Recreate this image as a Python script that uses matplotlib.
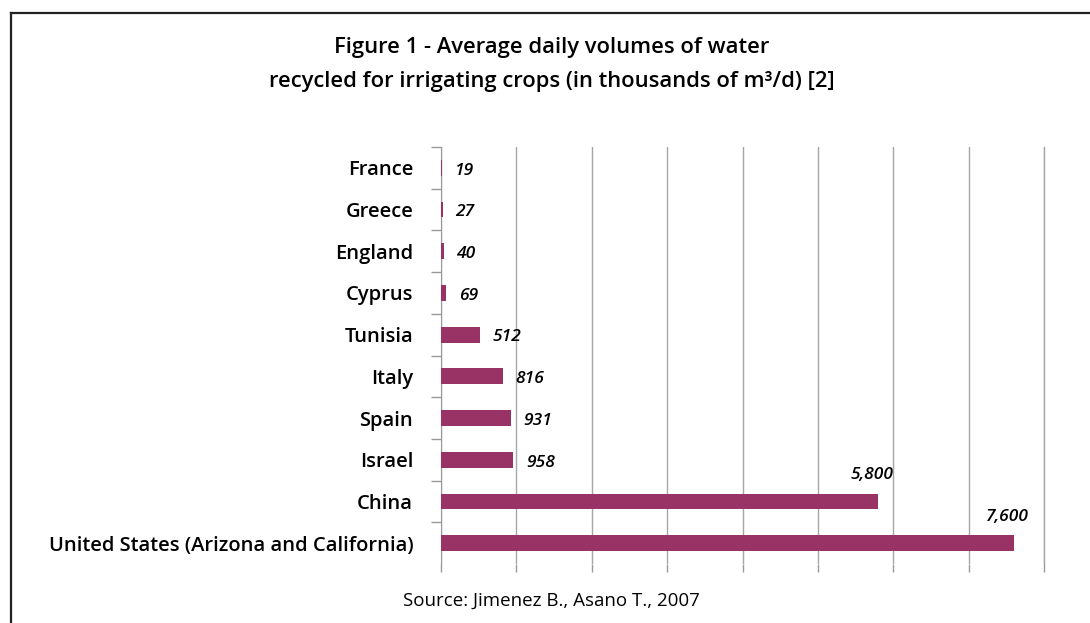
import matplotlib
matplotlib.use("Agg")
import matplotlib.pyplot as plt
from matplotlib.lines import Line2D

# data, top to bottom as shown
countries = ["France", "Greece", "England", "Cyprus", "Tunisia", "Italy",
             "Spain", "Israel", "China", "United States (Arizona and California)"]
volumes = [19, 27, 40, 69, 512, 816, 931, 958, 5800, 7600]
value_labels = ["19", "27", "40", "69", "512", "816", "931", "958", "5,800", "7,600"]

title = "Figure 1 - Average daily volumes of water\nrecycled for irrigating crops (in thousands of m\u00b3/d) [2]"
source = "Source: Jimenez B., Asano T., 2007"

plt.rcParams['font.family'] = ['Open Sans', 'DejaVu Sans']

fig = plt.figure(figsize=(10.9, 6.23), dpi=100)
ax = fig.add_axes([0.4046, 0.0947, 0.5532, 0.6693])

ypos = list(range(len(countries)))
ax.barh(ypos, volumes, height=0.38, color="#993366", zorder=3)
ax.set_ylim(len(countries) - 0.5, -0.5)
ax.set_xlim(0, 8000)
ax.set_xticks(range(0, 8001, 1000))
ax.set_xticklabels([])
ax.set_yticks(ypos)
ax.set_yticklabels(countries, fontsize=14.5, fontweight='semibold')
ax.tick_params(axis='y', length=0, pad=20)
# slot-boundary tick marks on the y axis
ax.set_yticks([y + 0.5 for y in ypos[:-1]] + [-0.5], minor=True)
ax.tick_params(axis='y', which='minor', length=7, color='#999999', width=1)
ax.tick_params(axis='x', length=6, color='#999999', width=1)
ax.grid(axis='x', color='#a6a6a6', linewidth=1, zorder=0)
ax.axvline(8000, color='#a6a6a6', linewidth=1, zorder=0, clip_on=False)
for s in ['top', 'right', 'bottom']:
    ax.spines[s].set_visible(False)
ax.spines['left'].set_color('#999999')

# value labels
for i, (v, lab) in enumerate(zip(volumes, value_labels)):
    if v > 3000:
        ax.annotate(lab, (v, i), xytext=(11, 19), textcoords='offset points',
                    ha='right', va='center', fontsize=12.5, style='italic',
                    fontweight='semibold')
    else:
        ax.annotate(lab, (v, i), xytext=(9, -2), textcoords='offset points',
                    ha='left', va='center', fontsize=12.5, style='italic',
                    fontweight='semibold')

fig.text(0.506, 0.896, title, ha='center', va='center', fontsize=15.8,
         linespacing=1.8, fontweight='semibold')
fig.text(0.506, 0.035, source, ha='center', va='center', fontsize=13.5)

# frame around the figure (left and top edges visible)
fig.add_artist(Line2D([11 / 1090, 11 / 1090], [0, 1 - 13 / 623],
                      transform=fig.transFigure, color='#222222', linewidth=1.6))
fig.add_artist(Line2D([11 / 1090, 1], [1 - 13 / 623, 1 - 13 / 623],
                      transform=fig.transFigure, color='#222222', linewidth=1.6))

fig.savefig("out.png", dpi=100)
